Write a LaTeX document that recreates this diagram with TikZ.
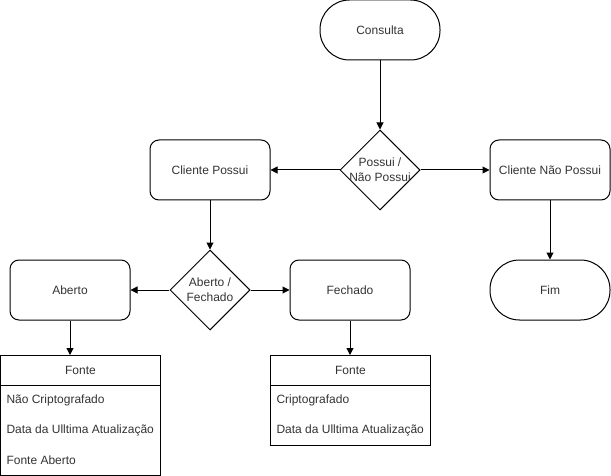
\documentclass[tikz,border=0pt]{standalone}
\usepackage{fontspec}
\setmainfont{Liberation Sans}
\usetikzlibrary{shapes.geometric,arrows.meta}
\begin{document}
\begin{tikzpicture}[x=1pt,y=-1pt,
  every node/.style={font=\fontsize{12}{14}\selectfont, text=black!80, line width=1pt},
  proc/.style={draw, rounded corners=9pt, minimum width=120pt, minimum height=60pt, inner sep=0pt},
  term/.style={draw, rounded corners=29.5pt, minimum width=120pt, minimum height=60pt, inner sep=0pt},
  dec/.style={draw, diamond, aspect=1, minimum width=80pt, minimum height=80pt, inner sep=0pt, align=center},
  hdr/.style={draw, minimum width=160pt, minimum height=30pt, inner sep=0pt},
  box/.style={draw, minimum width=160pt, inner sep=0pt},
  row/.style={anchor=west, inner sep=0pt},
  arr/.style={-{Triangle[length=7pt,width=7pt]}, line width=1pt}
]
\useasboundingbox (0,0) rectangle (611,476);
\node[term] (consulta) at (380,30) {Consulta};
\node[dec] (possui) at (380,170) {};
\node[align=center, font=\fontsize{12}{15}\selectfont] (possuitxt) at (380,170) {Possui /\\Não Possui};
\node[proc] (cp) at (210,170) {Cliente Possui};
\node[proc] (cnp) at (550,170) {Cliente Não Possui};
\node[dec] (af) at (210,290) {};
\node[align=center, font=\fontsize{12}{15}\selectfont] (aftxt) at (210,290) {Aberto /\\Fechado};
\node[proc] (aberto) at (70,290) {Aberto};
\node[proc] (fechado) at (350,290) {Fechado};
\node[term] (fim) at (550,290) {Fim};
% left table
\node[box, minimum height=120pt] (t1) at (80.5,415.5) {};
\node[hdr] (t1h) at (80.5,370.5) {Fonte};
\node[row] (t1a) at (6,400) {Não Criptografado};
\node[row] (t1b) at (6,430) {Data da Ulltima Atualização};
\node[row] (t1c) at (6,460) {Fonte Aberto};
% right table
\node[box, minimum height=90pt] (t2) at (350.5,400.5) {};
\node[hdr] (t2h) at (350.5,370.5) {Fonte};
\node[row] (t2a) at (276,400) {Criptografado};
\node[row] (t2b) at (276,430) {Data da Ulltima Atualização};
% edges
\draw[arr] (consulta) -- (possui);
\draw[arr] (possui) -- (cp);
\draw[arr] (possui) -- (cnp);
\draw[arr] (cp) -- (af);
\draw[arr] (af) -- (aberto);
\draw[arr] (af) -- (fechado);
\draw[arr] (cnp) -- (fim);
\draw[arr] (aberto.south) -- (aberto.south |- t1h.north);
\draw[arr] (fechado.south) -- (fechado.south |- t2h.north);
\end{tikzpicture}
\end{document}
